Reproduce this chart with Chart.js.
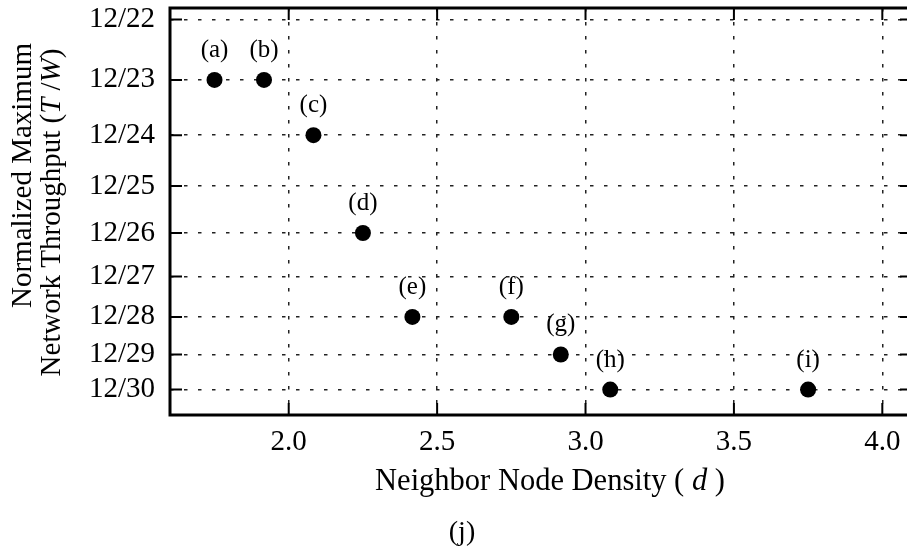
<!DOCTYPE html>
<html>
<head>
<meta charset="utf-8">
<script src="https://cdn.jsdelivr.net/npm/chart.js@4.4.0/dist/chart.umd.min.js"></script>
<style>
  html, body { margin: 0; padding: 0; overflow: hidden; background: #fff; }
  #wrap { width: 920px; height: 551px; }
</style>
</head>
<body>
<div id="wrap"><canvas id="densityChart"></canvas></div>
<script>
// point data
const pointNames = ["(a)", "(b)", "(c)", "(d)", "(e)", "(f)", "(g)", "(h)", "(i)"];
const densityValues = [1.75, 1.9167, 2.0833, 2.25, 2.4167, 2.75, 2.9167, 3.0833, 3.75];
const throughputDenoms = [23, 23, 24, 26, 28, 28, 29, 30, 30];
// axis ticks
const yTickDenoms = [22, 23, 24, 25, 26, 27, 28, 29, 30];
const xTickValues = [2.0, 2.5, 3.0, 3.5, 4.0];

const serif = "'Liberation Serif', 'Times New Roman', serif";
Chart.defaults.font.family = serif;
Chart.defaults.color = "#000";

function drawSegments(ctx, segs, cx, y, size) {
    let total = 0;
    segs.forEach(s => {
        ctx.font = (s[1] ? "italic " : "") + size + "px " + serif;
        total += ctx.measureText(s[0]).width;
    });
    let x = cx - total / 2;
    ctx.textAlign = "left";
    segs.forEach(s => {
        ctx.font = (s[1] ? "italic " : "") + size + "px " + serif;
        ctx.fillText(s[0], x, y);
        x += ctx.measureText(s[0]).width;
    });
}

const framePlugin = {
    id: "frame",
    afterDatasetsDraw(chart) {
        const ctx = chart.ctx;
        const a = chart.chartArea;
        const xs = chart.scales.x, ys = chart.scales.y;
        ctx.save();
        ctx.strokeStyle = "#000";
        ctx.lineWidth = 2;
        ctx.beginPath();
        xTickValues.forEach(v => {
            const px = xs.getPixelForValue(v);
            ctx.moveTo(px, a.bottom); ctx.lineTo(px, a.bottom - 12);
            ctx.moveTo(px, a.top); ctx.lineTo(px, a.top + 12);
        });
        yTickDenoms.forEach(n => {
            const py = ys.getPixelForValue(12 / n);
            ctx.moveTo(a.left, py); ctx.lineTo(a.left + 12, py);
            ctx.moveTo(a.right, py); ctx.lineTo(a.right - 12, py);
        });
        ctx.stroke();
        ctx.lineWidth = 3;
        ctx.strokeRect(a.left, a.top, a.right - a.left, a.bottom - a.top);

        // point labels
        const meta = chart.getDatasetMeta(0);
        ctx.fillStyle = "#000";
        ctx.font = "25px " + serif;
        ctx.textAlign = "center";
        ctx.textBaseline = "alphabetic";
        meta.data.forEach((pt, i) => {
            ctx.fillText(pointNames[i], pt.x, pt.y - 23);
        });
        ctx.restore();
    },
    afterDraw(chart) {
        const ctx = chart.ctx;
        ctx.save();
        ctx.fillStyle = "#000";
        ctx.textBaseline = "alphabetic";
        // y title, two lines
        ctx.save();
        ctx.translate(31, 175.5);
        ctx.rotate(-Math.PI / 2);
        drawSegments(ctx, [["Normalized Maximum", false]], 0, 0, 29);
        ctx.restore();
        ctx.save();
        ctx.translate(60, 212.5);
        ctx.rotate(-Math.PI / 2);
        drawSegments(ctx, [["Network Throughput (", false], ["T", true], [" /", false], ["W", true], [")", false]], 0, 0, 29);
        ctx.restore();
        // x title
        drawSegments(ctx, [["Neighbor Node Density ( ", false], ["d", true], [" )", false]], 550, 490, 30.5);
        // caption
        drawSegments(ctx, [["(j)", false]], 462, 540, 28);
        ctx.restore();
    }
};

new Chart(document.getElementById("densityChart"), {
    type: "scatter",
    data: {
        datasets: [{
            data: densityValues.map((d, i) => ({ x: d, y: 12 / throughputDenoms[i] })),
            backgroundColor: "#000",
            borderWidth: 0,
            pointRadius: 8,
            pointHoverRadius: 8
        }]
    },
    options: {
        responsive: true,
        maintainAspectRatio: false,
        animation: false,
        events: [],
        layout: { padding: { top: 6, right: 8, left: 0, bottom: 0 } },
        plugins: { legend: { display: false }, tooltip: { enabled: false } },
        scales: {
            x: {
                type: "linear",
                min: 1.6,
                max: 4.1,
                afterBuildTicks: s => { s.ticks = xTickValues.map(v => ({ value: v })); },
                afterFit: s => { s.height = 136; s.paddingLeft = 0; s.paddingRight = 0; },
                ticks: {
                    padding: 10,
                    font: { size: 29 },
                    callback: v => v.toFixed(1)
                },
                grid: { color: "#222", lineWidth: 1.5, drawTicks: false },
                border: { display: false, dash: [3.5, 10.5] }
            },
            y: {
                type: "linear",
                min: 0.39,
                max: 0.55,
                afterBuildTicks: s => { s.ticks = yTickDenoms.map(n => ({ value: 12 / n })); },
                afterFit: s => { s.width = 170; s.paddingTop = 0; s.paddingBottom = 0; },
                ticks: {
                    padding: 15,
                    font: { size: 29 },
                    callback: v => "12/" + Math.round(12 / v)
                },
                grid: { color: "#222", lineWidth: 1.5, drawTicks: false },
                border: { display: false, dash: [3.5, 10.5] }
            }
        }
    },
    plugins: [framePlugin]
});
</script>
</body>
</html>
